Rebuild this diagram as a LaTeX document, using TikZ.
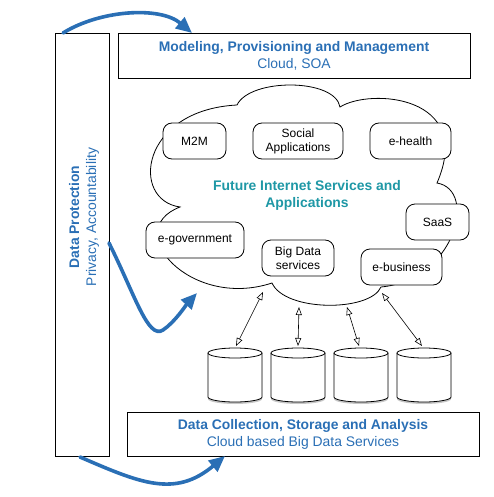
\documentclass[tikz,border=0pt]{standalone}
\usepackage{fontspec}
\setmainfont{Liberation Sans}
\usetikzlibrary{arrows.meta}
\definecolor{dpblue}{HTML}{2A6FB5}
\definecolor{fteal}{HTML}{1F98A6}
\begin{document}
\begin{tikzpicture}[x=1pt,y=-1pt,
  box/.style={draw=black, line width=0.9pt, inner sep=0pt},
  svc/.style={draw=black, line width=0.8pt, rounded corners=9pt, fill=white,
    align=center, font=\fontsize{12}{14}\selectfont, inner sep=0pt, minimum height=36pt},
  lbl/.style={align=center, text=dpblue, font=\fontsize{13.9}{17}\selectfont},
  bigarrow/.style={draw=dpblue, line width=3.6pt, line cap=round,
    -{Triangle[length=16pt,width=14pt]}},
  dbl/.style={line width=0.6pt,
    {Triangle[open,length=8pt,width=6pt]}-{Triangle[open,length=8pt,width=6pt]}},
  dbshape/.style={draw=black, line width=0.8pt, fill=white},
]
\useasboundingbox (0,0) rectangle (493,497);

% outer boxes
\node[box, minimum width=54pt, minimum height=423pt] (dp) at (82,244.5) {};
\node[lbl, rotate=90] (dptext) at (84,217) {\textbf{Data Protection}\\Privacy, Accountability};
\node[box, lbl, minimum width=352pt, minimum height=45pt] (top) at (294,55.5)
  {\textbf{Modeling, Provisioning and Management}\\Cloud, SOA};
\node[box, lbl, minimum width=352pt, minimum height=44pt] (bot) at (303,434)
  {\textbf{Data Collection, Storage and Analysis}\\Cloud based Big Data Services};

% cloud
\coordinate (k1) at (237,105);
\coordinate (k2) at (340,107);
\coordinate (k3) at (437,183);
\coordinate (k4) at (381,287);
\coordinate (k5) at (272,283);
\coordinate (k6) at (180,207);
\draw[line width=0.8pt, fill=white]
  (k1) .. controls (250,78) and (335,78) .. (k2)
       .. controls (370,88) and (475,95) .. (k3)
       .. controls (478,190) and (455,280) .. (k4)
       .. controls (370,312) and (285,312) .. (k5)
       .. controls (190,310) and (120,230) .. (k6)
       .. controls (130,200) and (140,110) .. (k1) -- cycle;

\node[align=center, text=fteal, font=\bfseries\fontsize{13.9}{17}\selectfont] (fis) at (307,195.5)
  {Future Internet Services and\\Applications};

% services
\node[svc, minimum width=63pt] (m2m) at (194.5,141) {M2M};
\node[svc, minimum width=90pt] (soc) at (298,141) {Social\\Applications};
\node[svc, minimum width=81pt] (ehe) at (410.5,141) {e-health};
\node[svc, minimum width=63pt] (saas) at (437.5,222) {SaaS};
\node[svc, minimum width=98pt] (egov) at (195,240) {e-government};
\node[svc, minimum width=72pt] (bds) at (298,258) {Big Data\\services};
\node[svc, minimum width=81pt] (ebus) at (401.5,267) {e-business};

% databases
\foreach \cx in {235,298,361,424}{
  \begin{scope}[shift={(\cx,0)}]
    \fill[black!22] (-27,355) -- (-27,399) .. controls (-27,401.8) and (-14.9,404) .. (0,404)
      .. controls (14.9,404) and (27,401.8) .. (27,399) -- (27,355) -- cycle;
    \draw[dbshape] (-27,353) -- (-27,397) .. controls (-27,399.76) and (-14.9,402) .. (0,402)
      .. controls (14.9,402) and (27,399.76) .. (27,397) -- (27,353)
      .. controls (27,350.24) and (14.9,348) .. (0,348)
      .. controls (-14.9,348) and (-27,350.24) .. (-27,353) -- cycle;
    \draw[line width=0.8pt] (-27,353) .. controls (-27,355.76) and (-14.9,358) .. (0,358)
      .. controls (14.9,358) and (27,355.76) .. (27,353);
  \end{scope}
}

% double arrows between cloud and databases
\coordinate (u1) at (263,292); \coordinate (d1) at (236,346);
\coordinate (u2) at (299,307); \coordinate (d2) at (298,346);
\coordinate (u3) at (347,307); \coordinate (d3) at (359,346);
\coordinate (u4) at (382,293); \coordinate (d4) at (422,346);
\draw[dbl] (u1) -- (d1);
\draw[dbl] (u2) -- (d2);
\draw[dbl] (u3) -- (d3);
\draw[dbl] (u4) -- (d4);

% blue arrows
\coordinate (b1s) at (63,33);  \coordinate (b1e) at (192,33);
\coordinate (b2s) at (109,243); \coordinate (b2e) at (197,293);
\coordinate (b3s) at (80,457); \coordinate (b3e) at (225,456);
\draw[bigarrow] (b1s) .. controls (100,10) and (160,6) .. (b1e);
\draw[bigarrow] (b2s) .. controls (135,295) and (148,340) .. (163,330)
  .. controls (175,322) and (186,305) .. (b2e);
\draw[bigarrow] (b3s) .. controls (140,483) and (175,498) .. (b3e);
\end{tikzpicture}
\end{document}
